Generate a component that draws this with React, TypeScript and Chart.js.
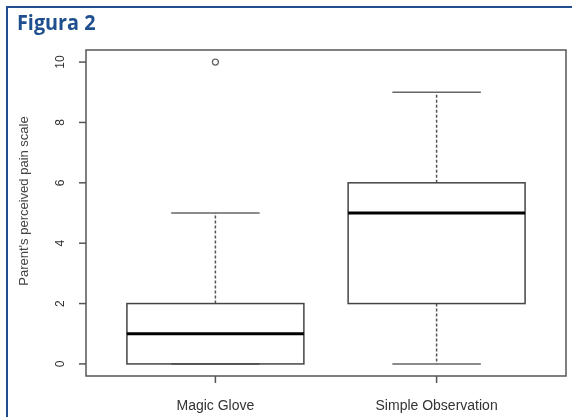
import React, { useEffect, useRef } from "react";
import { Chart, registerables } from "chart.js";

Chart.register(...registerables);

const categories = ["Magic Glove", "Simple Observation"];
const whiskerLow = [0, 0];
const q1 = [0, 2];
const median = [1, 5];
const q3 = [2, 6];
const whiskerHigh = [5, 9];
const outlierX = [1];
const outlierY = [10];
const yTicks = [0, 2, 4, 6, 8, 10];
const yTitle = "Parent's perceived pain scale";
const figTitle = "Figura 2";

const boxPlugin = {
  id: "boxPlugin",
  beforeDraw(chart: any) {
    const { ctx, chartArea: a, scales } = chart;
    const xs = scales.x;
    const ys = scales.y;
    ctx.save();
    ctx.fillStyle = "#ffffff";
    ctx.fillRect(0, 0, chart.width, chart.height);
    // blue figure frame
    ctx.strokeStyle = "#1f4f8f";
    ctx.lineWidth = 2;
    ctx.beginPath();
    ctx.moveTo(7, chart.height);
    ctx.lineTo(7, 7);
    ctx.lineTo(chart.width, 7);
    ctx.stroke();
    // title
    ctx.save();
    ctx.translate(17, 30);
    ctx.scale(0.9, 1);
    ctx.fillStyle = "#1f4f8f";
    ctx.font = "bold 22px 'Open Sans'";
    ctx.textAlign = "left";
    ctx.textBaseline = "alphabetic";
    ctx.fillText(figTitle, 0, 0);
    ctx.restore();

    const unit = xs.getPixelForValue(2) - xs.getPixelForValue(1);
    const halfBox = unit * 0.4;
    const halfCap = unit * 0.2;
    for (let i = 0; i < categories.length; i++) {
      const cx = xs.getPixelForValue(i + 1);
      const yq1 = ys.getPixelForValue(q1[i]);
      const yq3 = ys.getPixelForValue(q3[i]);
      const ymed = ys.getPixelForValue(median[i]);
      const ylo = ys.getPixelForValue(whiskerLow[i]);
      const yhi = ys.getPixelForValue(whiskerHigh[i]);
      // whiskers dashed
      ctx.strokeStyle = "#555555";
      ctx.lineWidth = 1.5;
      ctx.setLineDash([3, 2]);
      ctx.beginPath();
      ctx.moveTo(cx, yq3);
      ctx.lineTo(cx, yhi);
      ctx.moveTo(cx, yq1);
      ctx.lineTo(cx, ylo);
      ctx.stroke();
      ctx.setLineDash([]);
      // caps
      ctx.strokeStyle = "#666666";
      ctx.beginPath();
      ctx.moveTo(cx - halfCap, yhi);
      ctx.lineTo(cx + halfCap, yhi);
      ctx.moveTo(cx - halfCap, ylo);
      ctx.lineTo(cx + halfCap, ylo);
      ctx.stroke();
      // box
      ctx.strokeStyle = "#444444";
      ctx.lineWidth = 1.5;
      ctx.strokeRect(cx - halfBox, yq3, halfBox * 2, yq1 - yq3);
      // median
      ctx.strokeStyle = "#000000";
      ctx.lineWidth = 3;
      ctx.beginPath();
      ctx.moveTo(cx - halfBox, ymed);
      ctx.lineTo(cx + halfBox, ymed);
      ctx.stroke();
      // x tick and label
      ctx.strokeStyle = "#555555";
      ctx.lineWidth = 1.5;
      ctx.beginPath();
      ctx.moveTo(cx, a.bottom);
      ctx.lineTo(cx, a.bottom + 7);
      ctx.stroke();
      ctx.fillStyle = "#333333";
      ctx.font = "14px 'Liberation Sans'";
      ctx.textAlign = "center";
      ctx.textBaseline = "middle";
      ctx.fillText(categories[i], cx, a.bottom + 30);
    }
    // plot frame
    ctx.strokeStyle = "#555555";
    ctx.lineWidth = 1.5;
    ctx.strokeRect(a.left, a.top, a.right - a.left, a.bottom - a.top);
    // y ticks
    for (const t of yTicks) {
      const py = ys.getPixelForValue(t);
      ctx.beginPath();
      ctx.moveTo(a.left, py);
      ctx.lineTo(a.left - 7, py);
      ctx.stroke();
      ctx.save();
      ctx.translate(a.left - 25, py);
      ctx.rotate(-Math.PI / 2);
      ctx.fillStyle = "#333333";
      ctx.font = "12px 'Liberation Sans'";
      ctx.textAlign = "center";
      ctx.textBaseline = "middle";
      ctx.fillText(String(t), 0, 0);
      ctx.restore();
    }
    // y title
    ctx.save();
    ctx.translate(24, 201);
    ctx.rotate(-Math.PI / 2);
    ctx.fillStyle = "#444444";
    ctx.font = "13px 'Liberation Sans'";
    ctx.textAlign = "center";
    ctx.textBaseline = "middle";
    ctx.fillText(yTitle, 0, 0);
    ctx.restore();
    ctx.restore();
  },
};

export default function App() {
  const ref = useRef<HTMLCanvasElement>(null);
  useEffect(() => {
    document.body.style.margin = "0";
    const chart = new Chart(ref.current!, {
      type: "scatter",
      data: {
        datasets: [
          {
            data: outlierX.map((x, i) => ({ x, y: outlierY[i] })),
            pointRadius: 3,
            pointBorderWidth: 1.3,
            pointBorderColor: "#666666",
            pointBackgroundColor: "rgba(0,0,0,0)",
          },
        ],
      },
      options: {
        animation: false,
        responsive: false,
        layout: { padding: { left: 86, right: 6, top: 50, bottom: 41 } },
        plugins: { legend: { display: false }, tooltip: { enabled: false } },
        scales: {
          x: { type: "linear", min: 0.415, max: 2.585, display: false },
          y: { type: "linear", min: -0.4, max: 10.4, display: false },
        },
      },
      plugins: [boxPlugin],
    });
    return () => chart.destroy();
  }, []);
  return <canvas ref={ref} width={572} height={417} style={{ display: "block" }} />;
}
